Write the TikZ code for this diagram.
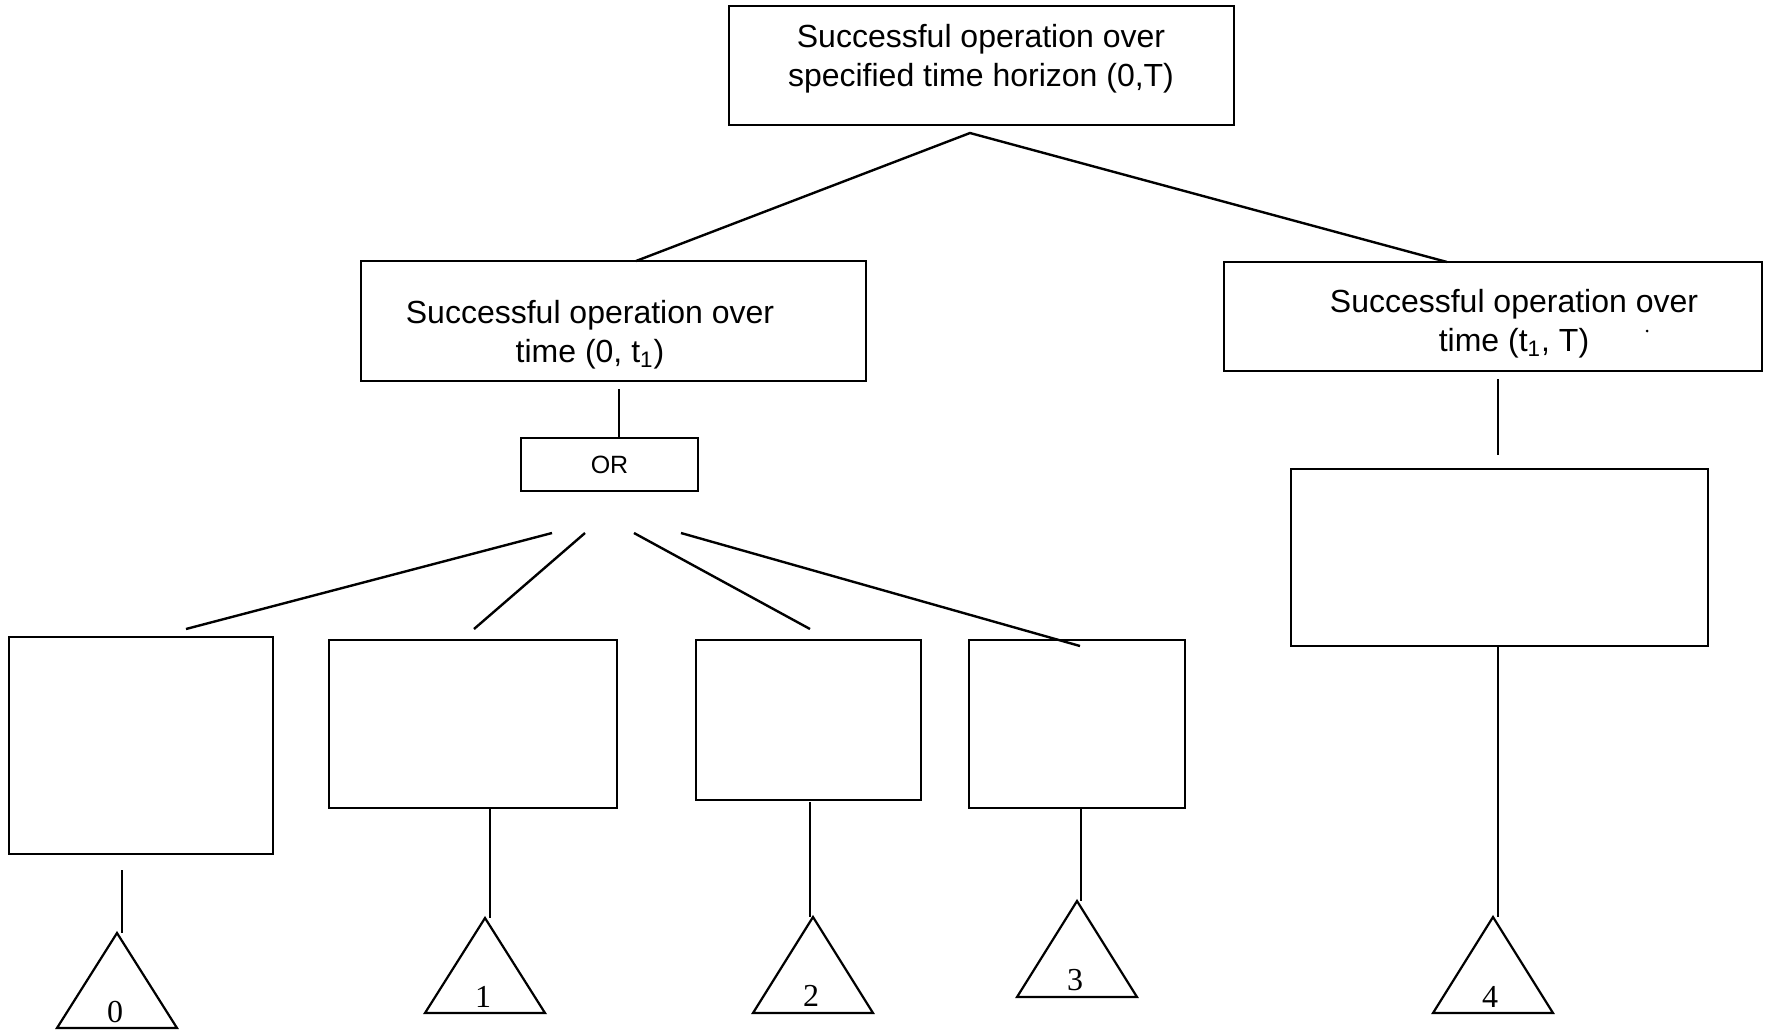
\documentclass[tikz,border=0pt]{standalone}
\usepackage{fontspec}
\setmainfont{Liberation Sans}
\newfontfamily\numfont{Liberation Serif}
\usetikzlibrary{fit}
\begin{document}
\begin{tikzpicture}[x=0.5pt,y=-0.5pt,
  box/.style={draw, line width=1.3pt, inner sep=0pt},
  link/.style={line width=1.2pt},
  caption/.style={font=\fontsize{16}{19.5}\selectfont, align=center, inner sep=0pt},
  gatetext/.style={font=\fontsize{12.5}{14}\selectfont},
  numlabel/.style={font=\numfont\fontsize{16}{16}\selectfont, inner sep=0pt},
  transfer/.style={line width=1.1pt, line join=miter}]
\useasboundingbox[fill=white] (0,0) rectangle (1769,1030);

% event boxes
\node[box, fit={(729,6) (1234,125)}] (top) {};
\node[caption] (toptext) at (981,59) {Successful operation over\\specified time horizon (0,T)};

\node[box, fit={(361,261) (866,381)}] (lmid) {};
\node[caption] (lmidtext) at (590,335) {Successful operation over\\time (0, t\textsubscript{1})};

\node[box, fit={(1224,262) (1762,371)}] (rmid) {};
\node[caption] (rmidtext) at (1514,324) {Successful operation over\\time (t\textsubscript{1}, T)};
\node[circle, fill, inner sep=0pt, minimum size=1.5pt] (speck) at (1647,331) {};

% OR gate
\node[box, gatetext, minimum width=88.5pt, minimum height=26.5pt] (gate) at (609.5,464.5) {OR};

\node[box, fit={(9,637) (273,854)}] (b0) {};
\node[box, fit={(329,640) (617,808)}] (b1) {};
\node[box, fit={(696,640) (921,800)}] (b2) {};
\node[box, fit={(969,640) (1185,808)}] (b3) {};
\node[box, fit={(1291,469) (1708,646)}] (b4) {};

% connector end points
\coordinate (apex) at (970,133);
\coordinate (lin) at (636,261);
\coordinate (rin) at (1447,262);
\coordinate (lstem) at (619,389);
\coordinate (rstem) at (1498,379);
\coordinate (rstemend) at (1498,455);
\coordinate (fa) at (552,533);
\coordinate (fb) at (585,533);
\coordinate (fc) at (634,533);
\coordinate (fd) at (681,533);
\coordinate (ea) at (186,629);
\coordinate (eb) at (474,629);
\coordinate (ec) at (810,629);
\coordinate (ed) at (1080,646);
\coordinate (s0) at (122,870);
\coordinate (s1) at (490,808);
\coordinate (s2) at (810,802);
\coordinate (s3) at (1081,808);
\coordinate (s4) at (1498,646);

% transfer triangles
\coordinate (t0) at (117,933);
\coordinate (t1) at (485,918);
\coordinate (t2) at (813,917);
\coordinate (t3) at (1077,901);
\coordinate (t4) at (1493,917);
\foreach \t/\h in {t0/95,t1/95,t2/96,t3/96,t4/96}{
  \draw[transfer] (\t) -- ++(-60,\h) -- ++(120,0) -- cycle;
}
\node[numlabel] (n0) at (115,1012) {0};
\node[numlabel] (n1) at (483,997) {1};
\node[numlabel] (n2) at (811,996) {2};
\node[numlabel] (n3) at (1075,980) {3};
\node[numlabel] (n4) at (1490,997) {4};

% connectors
\draw[link] (lin) -- (apex) -- (rin);
\draw[link] (lstem) -- (lstem |- gate.north);
\draw[link] (rstem) -- (rstemend);
\draw[link] (fa) -- (ea);
\draw[link] (fb) -- (eb);
\draw[link] (fc) -- (ec);
\draw[link] (fd) -- (ed);
\draw[link] (s0) -- (s0 |- t0);
\draw[link] (s1) -- (s1 |- t1);
\draw[link] (s2) -- (s2 |- t2);
\draw[link] (s3) -- (s3 |- t3);
\draw[link] (s4) -- (s4 |- t4);
\end{tikzpicture}
\end{document}
